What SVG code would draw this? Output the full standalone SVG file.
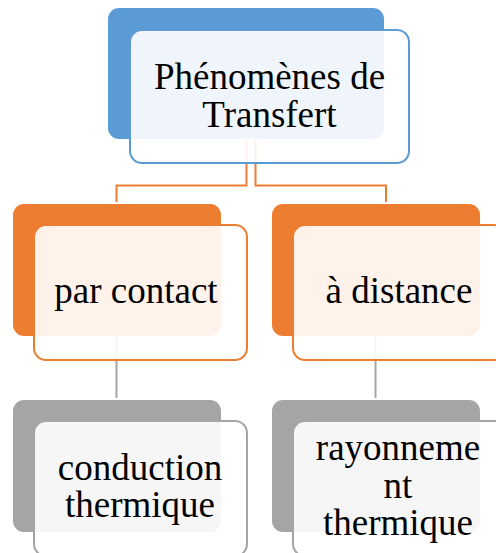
<svg xmlns="http://www.w3.org/2000/svg" width="496" height="553" viewBox="0 0 496 553">
<style>
.t{font-family:"Liberation Serif","Times New Roman",serif;font-size:37px;fill:#000;text-anchor:middle}
.fr{fill:#fff;fill-opacity:0.9;stroke-width:2}
.b{fill:#5B9BD5}.o{fill:#ED7D31}.g{fill:#A5A5A5}
.bs{stroke:#5B9BD5}.os{stroke:#ED7D31}.gs{stroke:#A5A5A5}
.c{fill:none;stroke-width:2}
</style>
<rect width="496" height="553" fill="#fff"/>
<g id="connectors">
<path class="c" stroke="#ED7D31" d="M246.5,139 V185.5 H116.5 V202"/>
<path class="c" stroke="#ED7D31" d="M255.5,139 V185.5 H386 V202"/>
<path class="c" stroke="#A5A5A5" d="M116.5,336 V398"/>
<path class="c" stroke="#A5A5A5" d="M375.5,336 V398"/>
</g>
<g id="n-top">
<rect class="b" x="108" y="8" width="276" height="131" rx="11"/>
<rect class="fr bs" x="130" y="30" width="279" height="133" rx="12"/>
<text class="t" x="269.5" y="89">Phénomènes de</text>
<text class="t" x="269.5" y="127">Transfert</text>
</g>
<g id="n-contact">
<rect class="o" x="13" y="204" width="208" height="132" rx="11"/>
<rect class="fr os" x="34" y="225" width="213" height="135" rx="12"/>
<text class="t" x="136" y="303">par contact</text>
</g>
<g id="n-distance">
<rect class="o" x="272" y="204" width="208" height="132" rx="11"/>
<rect class="fr os" x="293" y="225" width="213" height="135" rx="12"/>
<text class="t" x="399" y="303">à distance</text>
</g>
<g id="n-conduction">
<rect class="g" x="13" y="400" width="208" height="132" rx="11"/>
<rect class="fr gs" x="34" y="421" width="213" height="135" rx="12"/>
<text class="t" x="140" y="480">conduction</text>
<text class="t" x="140" y="517">thermique</text>
</g>
<g id="n-rayonnement">
<rect class="g" x="272" y="400" width="208" height="132" rx="11"/>
<rect class="fr gs" x="293" y="421" width="213" height="135" rx="12"/>
<text class="t" x="398" y="460">rayonneme</text>
<text class="t" x="398" y="498">nt</text>
<text class="t" x="398" y="535">thermique</text>
</g>
</svg>
